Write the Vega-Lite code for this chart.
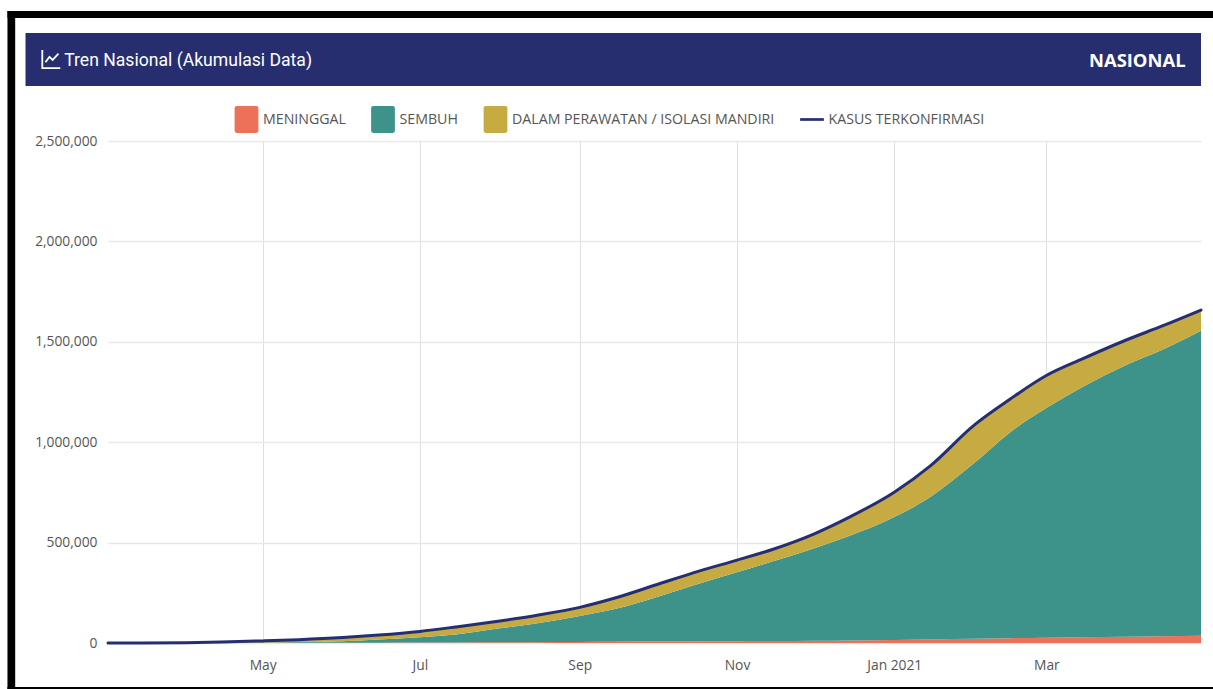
{
"$schema":"https://vega.github.io/schema/vega-lite/v6.json",
"width":1093,"height":502,
"autosize":{"type":"none"},
"padding":{"left":108,"top":141,"right":12,"bottom":46},
"background":"#ffffff",
"config":{"font":"Open Sans","view":{"stroke":null}},
"data":{"values":[
{"tanggal":"2020-03-02T00:00","MENINGGAL":0,"SEMBUH":0,"DALAM PERAWATAN / ISOLASI MANDIRI":2,"KASUS TERKONFIRMASI":2},
{"tanggal":"2020-03-15T00:00","MENINGGAL":5,"SEMBUH":8,"DALAM PERAWATAN / ISOLASI MANDIRI":104,"KASUS TERKONFIRMASI":117},
{"tanggal":"2020-04-01T00:00","MENINGGAL":120,"SEMBUH":140,"DALAM PERAWATAN / ISOLASI MANDIRI":1417,"KASUS TERKONFIRMASI":1677},
{"tanggal":"2020-04-15T00:00","MENINGGAL":300,"SEMBUH":615,"DALAM PERAWATAN / ISOLASI MANDIRI":4221,"KASUS TERKONFIRMASI":5136},
{"tanggal":"2020-05-01T00:00","MENINGGAL":500,"SEMBUH":1891,"DALAM PERAWATAN / ISOLASI MANDIRI":8160,"KASUS TERKONFIRMASI":10551},
{"tanggal":"2020-05-15T00:00","MENINGGAL":700,"SEMBUH":4179,"DALAM PERAWATAN / ISOLASI MANDIRI":11617,"KASUS TERKONFIRMASI":16496},
{"tanggal":"2020-06-01T00:00","MENINGGAL":1100,"SEMBUH":8178,"DALAM PERAWATAN / ISOLASI MANDIRI":17662,"KASUS TERKONFIRMASI":26940},
{"tanggal":"2020-06-15T00:00","MENINGGAL":1500,"SEMBUH":15821,"DALAM PERAWATAN / ISOLASI MANDIRI":21973,"KASUS TERKONFIRMASI":39294},
{"tanggal":"2020-07-01T00:00","MENINGGAL":2000,"SEMBUH":26529,"DALAM PERAWATAN / ISOLASI MANDIRI":29241,"KASUS TERKONFIRMASI":57770},
{"tanggal":"2020-07-15T00:00","MENINGGAL":2500,"SEMBUH":40347,"DALAM PERAWATAN / ISOLASI MANDIRI":37247,"KASUS TERKONFIRMASI":80094},
{"tanggal":"2020-08-01T00:00","MENINGGAL":3300,"SEMBUH":69812,"DALAM PERAWATAN / ISOLASI MANDIRI":36824,"KASUS TERKONFIRMASI":109936},
{"tanggal":"2020-08-15T00:00","MENINGGAL":4000,"SEMBUH":93392,"DALAM PERAWATAN / ISOLASI MANDIRI":40076,"KASUS TERKONFIRMASI":137468},
{"tanggal":"2020-09-01T00:00","MENINGGAL":5000,"SEMBUH":129699,"DALAM PERAWATAN / ISOLASI MANDIRI":42872,"KASUS TERKONFIRMASI":177571},
{"tanggal":"2020-09-15T00:00","MENINGGAL":5800,"SEMBUH":164230,"DALAM PERAWATAN / ISOLASI MANDIRI":55000,"KASUS TERKONFIRMASI":225030},
{"tanggal":"2020-10-01T00:00","MENINGGAL":7000,"SEMBUH":222343,"DALAM PERAWATAN / ISOLASI MANDIRI":61839,"KASUS TERKONFIRMASI":291182},
{"tanggal":"2020-10-15T00:00","MENINGGAL":8000,"SEMBUH":277929,"DALAM PERAWATAN / ISOLASI MANDIRI":63231,"KASUS TERKONFIRMASI":349160},
{"tanggal":"2020-11-01T00:00","MENINGGAL":9200,"SEMBUH":342544,"DALAM PERAWATAN / ISOLASI MANDIRI":61040,"KASUS TERKONFIRMASI":412784},
{"tanggal":"2020-11-15T00:00","MENINGGAL":10000,"SEMBUH":396892,"DALAM PERAWATAN / ISOLASI MANDIRI":60221,"KASUS TERKONFIRMASI":467113},
{"tanggal":"2020-12-01T00:00","MENINGGAL":11500,"SEMBUH":460460,"DALAM PERAWATAN / ISOLASI MANDIRI":72015,"KASUS TERKONFIRMASI":543975},
{"tanggal":"2020-12-15T00:00","MENINGGAL":13000,"SEMBUH":521766,"DALAM PERAWATAN / ISOLASI MANDIRI":94663,"KASUS TERKONFIRMASI":629429},
{"tanggal":"2021-01-01T00:00","MENINGGAL":15500,"SEMBUH":611500,"DALAM PERAWATAN / ISOLASI MANDIRI":124270,"KASUS TERKONFIRMASI":751270},
{"tanggal":"2021-01-15T00:00","MENINGGAL":17500,"SEMBUH":709500,"DALAM PERAWATAN / ISOLASI MANDIRI":155418,"KASUS TERKONFIRMASI":882418},
{"tanggal":"2021-02-01T00:00","MENINGGAL":21000,"SEMBUH":875000,"DALAM PERAWATAN / ISOLASI MANDIRI":189000,"KASUS TERKONFIRMASI":1085000},
{"tanggal":"2021-02-15T00:00","MENINGGAL":24000,"SEMBUH":1026000,"DALAM PERAWATAN / ISOLASI MANDIRI":165000,"KASUS TERKONFIRMASI":1215000},
{"tanggal":"2021-03-01T00:00","MENINGGAL":26500,"SEMBUH":1143500,"DALAM PERAWATAN / ISOLASI MANDIRI":162000,"KASUS TERKONFIRMASI":1332000},
{"tanggal":"2021-03-15T00:00","MENINGGAL":28500,"SEMBUH":1246500,"DALAM PERAWATAN / ISOLASI MANDIRI":140000,"KASUS TERKONFIRMASI":1415000},
{"tanggal":"2021-04-01T00:00","MENINGGAL":31000,"SEMBUH":1354000,"DALAM PERAWATAN / ISOLASI MANDIRI":124000,"KASUS TERKONFIRMASI":1509000},
{"tanggal":"2021-04-15T00:00","MENINGGAL":33500,"SEMBUH":1426500,"DALAM PERAWATAN / ISOLASI MANDIRI":119000,"KASUS TERKONFIRMASI":1579000},
{"tanggal":"2021-04-30T00:00","MENINGGAL":36000,"SEMBUH":1519000,"DALAM PERAWATAN / ISOLASI MANDIRI":103000,"KASUS TERKONFIRMASI":1658000}
]},
"layer":[
{"transform":[
{"fold":["MENINGGAL","SEMBUH","DALAM PERAWATAN / ISOLASI MANDIRI"],"as":["status","jumlah"]},
{"calculate":"datum.status==='MENINGGAL'?1:datum.status==='SEMBUH'?2:3","as":"urutan"}],
"mark":{"type":"area","interpolate":"monotone"},
"encoding":{
"x":{"field":"tanggal","type":"temporal","title":null,
"scale":{"domain":[{"year":2020,"month":3,"date":2},{"year":2021,"month":4,"date":30}],"nice":false},
"axis":{"tickCount":{"interval":"month","step":2},"labelExpr":"month(datum.value)===0?timeFormat(datum.value,'%b %Y'):timeFormat(datum.value,'%b')","grid":true,"gridColor":"#e0e0e0","gridWidth":1,"ticks":false,"domain":false,"labelFont":"Open Sans","labelFontSize":13.8,"labelColor":"#555555","labelPadding":15,"labelFlush":false,"labelOverlap":false}},
"y":{"field":"jumlah","type":"quantitative","stack":"zero","title":null,
"scale":{"domain":[0,2500000],"nice":false},
"axis":{"values":[0,500000,1000000,1500000,2000000,2500000],"format":",d","grid":true,"gridColor":"#e8e8e8","gridWidth":1.5,"ticks":false,"domain":false,"labelFont":"Open Sans","labelFontSize":13.8,"labelColor":"#555555","labelPadding":11}},
"order":{"field":"urutan"},
"color":{"field":"status","type":"nominal",
"scale":{"domain":["MENINGGAL","SEMBUH","DALAM PERAWATAN / ISOLASI MANDIRI","KASUS TERKONFIRMASI"],"range":["#ED7058","#3D9389","#C5AB42","#262E72"]},
"legend":{"title":null,"orient":"none","legendX":125,"legendY":-35,"direction":"horizontal","columns":4,"columnPadding":23.5,"symbolSize":729,"symbolStrokeWidth":0,"symbolOpacity":1,"labelFont":"Open Sans","labelFontSize":14.2,"labelColor":"#555555","labelOffset":3,"labelLimit":400,
"encode":{"symbols":{"update":{"shape":{"signal":"datum.value==='KASUS TERKONFIRMASI'?'M-0.88,-1H-0.88M-0.88,1H-0.88M-0.88,-0.1H0.88V0.1H-0.88Z':'M-0.72,-1H0.72Q0.88,-1 0.88,-0.84V0.84Q0.88,1 0.72,1H-0.72Q-0.88,1 -0.88,0.84V-0.84Q-0.88,-1 -0.72,-1Z'"}}}}}}
}},
{"mark":{"type":"line","interpolate":"monotone","strokeWidth":3,"strokeCap":"round"},
"encoding":{"x":{"field":"tanggal","type":"temporal"},"y":{"field":"KASUS TERKONFIRMASI","type":"quantitative"},
"color":{"datum":"KASUS TERKONFIRMASI","legend":null}}},
{"data":{"values":[{"bagian":"header"}]},
"mark":{"type":"rect","color":"#262E70"},
"encoding":{"x":{"datum":{"year":2020,"month":1,"date":30},"type":"temporal"},"x2":{"datum":{"year":2021,"month":4,"date":30}},"y":{"datum":3037850,"type":"quantitative"},"y2":{"datum":2773900}}},
{"data":{"values":[{"bagian":"bingkai atas"}]},
"mark":{"type":"rect","color":"#000000"},
"encoding":{"x":{"datum":{"year":2020,"month":1,"date":23},"type":"temporal"},"x2":{"datum":{"year":2021,"month":5,"date":8}},"y":{"datum":3147400,"type":"quantitative"},"y2":{"datum":3112600}}},
{"data":{"values":[{"bagian":"bingkai kiri"}]},
"mark":{"type":"rect","color":"#000000"},
"encoding":{"x":{"datum":{"year":2020,"month":1,"date":23},"type":"temporal"},"x2":{"datum":{"year":2020,"month":1,"date":26}},"y":{"datum":3147400,"type":"quantitative"},"y2":{"datum":-234000}}},
{"data":{"values":[{"bagian":"bingkai bawah"}]},
"mark":{"type":"rect","color":"#000000"},
"encoding":{"x":{"datum":{"year":2020,"month":1,"date":23},"type":"temporal"},"x2":{"datum":{"year":2021,"month":5,"date":8}},"y":{"datum":-219100,"type":"quantitative"},"y2":{"datum":-234000}}},
{"data":{"values":[{"judul":"Tren Nasional (Akumulasi Data)"}]},
"mark":{"type":"text","align":"left","baseline":"middle","font":"Roboto","fontSize":17.6,"color":"#ffffff"},
"encoding":{"x":{"datum":{"year":2020,"month":2,"date":14},"type":"temporal"},"y":{"datum":2898000,"type":"quantitative"},"text":{"field":"judul"}}},
{"data":{"values":[{"judul":"NASIONAL"}]},
"mark":{"type":"text","align":"right","baseline":"middle","font":"Open Sans","fontWeight":"bold","fontSize":18.4,"color":"#ffffff"},
"encoding":{"x":{"datum":{"year":2021,"month":4,"date":24},"type":"temporal"},"y":{"datum":2898000,"type":"quantitative"},"text":{"field":"judul"}}},
{"data":{"values":[{"ikon":"grafik"}]},
"mark":{"type":"point","shape":"M-1,-1V1H1M-0.65,0.35L-0.2,-0.25L0.15,0.1L0.8,-0.6","size":324,"filled":false,"stroke":"#ffffff","strokeWidth":1.8,"opacity":1},
"encoding":{"x":{"datum":{"year":2020,"month":2,"date":9},"type":"temporal"},"y":{"datum":2908000,"type":"quantitative"}}}
]
}
